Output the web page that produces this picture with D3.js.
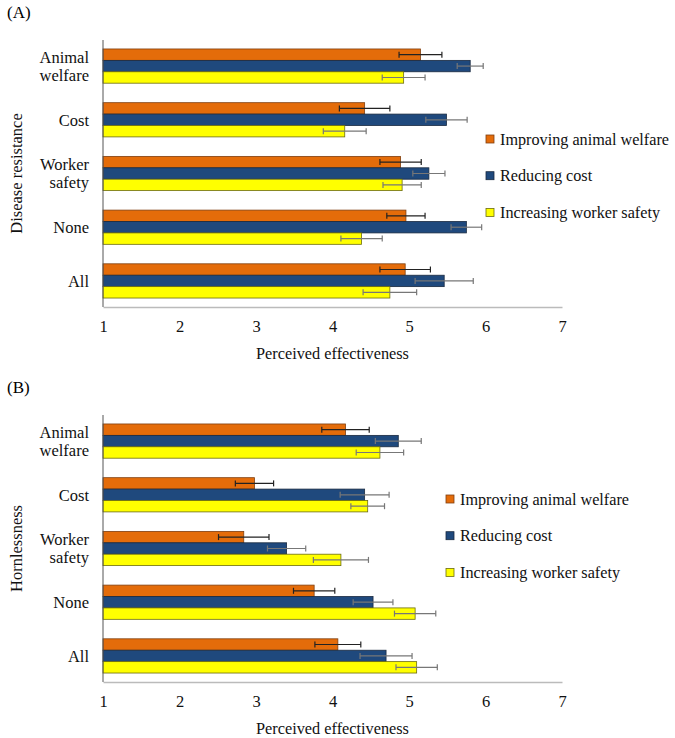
<!DOCTYPE html>
<html>
<head>
<meta charset="utf-8">
<script src="https://cdn.jsdelivr.net/npm/d3@7"></script>
<style>
  body { margin: 0; background: #fff; }
  svg { display: block; }
</style>
</head>
<body>
<svg id="chart" width="675" height="738"></svg>
<script>
// ---- data ----
const categories = ["Animal welfare", "Cost", "Worker safety", "None", "All"];
const seriesNames = ["Improving animal welfare", "Reducing cost", "Increasing worker safety"];
const xTicks = [1, 2, 3, 4, 5, 6, 7];

// Panel A: Disease resistance
const diseaseWelfare = [5.15, 4.42, 4.89, 4.96, 4.95];
const diseaseCost    = [5.80, 5.49, 5.26, 5.75, 5.46];
const diseaseSafety  = [4.93, 4.16, 4.91, 4.38, 4.75];
const diseaseWelfareErr = [0.28, 0.33, 0.27, 0.25, 0.33];
const diseaseCostErr    = [0.17, 0.27, 0.21, 0.20, 0.38];
const diseaseSafetyErr  = [0.28, 0.28, 0.25, 0.27, 0.35];

// Panel B: Hornlessness
const hornWelfare = [4.17, 2.98, 2.84, 3.76, 4.07];
const hornCost    = [4.86, 4.42, 3.40, 4.53, 4.70];
const hornSafety  = [4.62, 4.46, 4.11, 5.08, 5.10];
const hornWelfareErr = [0.31, 0.25, 0.33, 0.27, 0.30];
const hornCostErr    = [0.30, 0.32, 0.25, 0.26, 0.34];
const hornSafetyErr  = [0.31, 0.22, 0.36, 0.27, 0.27];

const FONT = "Liberation Serif";
const colors = ["#e46c0a", "#1f497d", "#ffff00"];
const strokes = ["#7f3f10", "#1a2a40", "#6b6b10"];
const errColors = ["#222", "#777", "#777"];

const panels = [
  { tag: "(A)", title: "Disease resistance", dy: 0, legendX: 490, legendY: 139,
    values: [diseaseWelfare, diseaseCost, diseaseSafety],
    errs: [diseaseWelfareErr, diseaseCostErr, diseaseSafetyErr] },
  { tag: "(B)", title: "Hornlessness", dy: 375, legendX: 450, legendY: 499,
    values: [hornWelfare, hornCost, hornSafety],
    errs: [hornWelfareErr, hornCostErr, hornSafetyErr] }
];

const svg = d3.select("#chart").attr("font-family", FONT);
const x = d3.scaleLinear().domain([1, 7]).range([103, 562]);

panels.forEach(p => {
  const g = svg.append("g").attr("transform", `translate(0,${p.dy})`);
  const y = d3.scaleBand().domain(categories).range([40, 307])
    .paddingInner(0.363).paddingOuter(0.167);
  const ys = d3.scaleBand().domain(d3.range(3)).range([0, y.bandwidth()]);

  g.append("text").attr("x", 7).attr("y", 18).attr("font-family", FONT)
    .attr("font-size", 17).text(p.tag);

  categories.forEach((c, i) => {
    const grp = g.append("g").attr("transform", `translate(0,${y(c)})`);
    for (let s = 0; s < 3; s++) {
      const v = p.values[s][i], e = p.errs[s][i];
      grp.append("rect")
        .attr("x", x(1)).attr("y", ys(s))
        .attr("width", x(v) - x(1)).attr("height", ys.bandwidth())
        .attr("fill", colors[s]).attr("stroke", strokes[s]).attr("stroke-width", 0.8);
      const cy = ys(s) + ys.bandwidth() / 2;
      const eg = grp.append("g").attr("stroke", errColors[s]).attr("stroke-width", 1.2);
      eg.append("line").attr("x1", x(v - e)).attr("x2", x(v + e)).attr("y1", cy).attr("y2", cy);
      [v - e, v + e].forEach(t => {
        eg.append("line").attr("x1", x(t)).attr("x2", x(t)).attr("y1", cy - 3).attr("y2", cy + 3);
      });
    }
  });

  const xa = g.append("g").attr("transform", "translate(0,307)")
    .call(d3.axisBottom(x).tickValues(xTicks).tickSize(0).tickPadding(13).tickFormat(d3.format("d")));
  xa.attr("font-family", FONT);
  xa.select(".domain").attr("stroke", "#bbb").attr("stroke-width", 1.5);
  xa.selectAll("text").attr("font-family", FONT).attr("font-size", 16.5).attr("fill", "#111");

  g.append("line").attr("x1", x(1)).attr("x2", x(1)).attr("y1", 40).attr("y2", 307)
    .attr("stroke", "#555").attr("stroke-width", 1);

  categories.forEach(c => {
    const words = c.split(" ");
    const cy = y(c) + y.bandwidth() / 2;
    const t = g.append("text").attr("text-anchor", "end").attr("font-family", FONT)
      .attr("font-size", 16.5).attr("fill", "#111");
    if (words.length === 2) {
      t.append("tspan").attr("x", 89).attr("y", cy - 9).attr("dy", "0.35em").text(words[0]);
      t.append("tspan").attr("x", 89).attr("y", cy + 9).attr("dy", "0.35em").text(words[1]);
    } else {
      t.append("tspan").attr("x", 89).attr("y", cy).attr("dy", "0.35em").text(c);
    }
  });

  g.append("text").attr("x", (x(1) + x(7)) / 2).attr("y", 353).attr("dy", "0.35em")
    .attr("text-anchor", "middle").attr("font-family", FONT).attr("font-size", 16.3).attr("fill", "#111")
    .text("Perceived effectiveness");
  g.append("text").attr("transform", `translate(16,${(40 + 307) / 2}) rotate(-90)`)
    .attr("dy", "0.35em").attr("text-anchor", "middle").attr("font-family", FONT)
    .attr("font-size", 16.5).attr("fill", "#111")
    .text(p.title);

  const lg = svg.append("g");
  seriesNames.forEach((n, s) => {
    const ly = p.legendY + s * 36.7;
    lg.append("rect").attr("x", p.legendX - 4).attr("y", ly - 4).attr("width", 8).attr("height", 8)
      .attr("fill", colors[s]).attr("stroke", strokes[s]).attr("stroke-width", 0.8);
    lg.append("text").attr("x", p.legendX + 10).attr("y", ly).attr("dy", "0.35em")
      .attr("font-family", FONT).attr("font-size", 16.2).attr("fill", "#111").text(n);
  });
});
</script>
</body>
</html>
